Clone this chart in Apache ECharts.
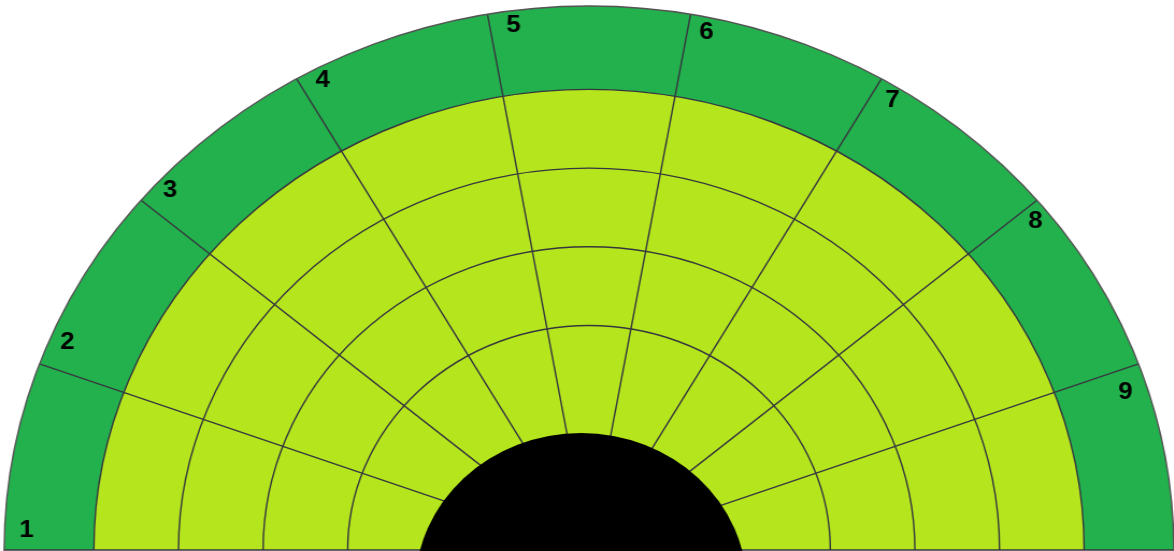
<!DOCTYPE html>
<html>
<head>
<meta charset="utf-8">
<script src="https://cdn.jsdelivr.net/npm/echarts@6/dist/echarts.min.js"></script>
<style>
html,body{margin:0;padding:0;background:#fff;overflow:hidden}
#chart{width:1092px;height:551px;transform:scaleX(1.075);transform-origin:0 0}
</style>
</head>
<body>
<div id="chart"></div>
<script>
// ---- data ----
const categories = ['1', '2', '3', '4', '5', '6', '7', '8', '9'];
const fieldValues = [5, 5, 5, 5, 5, 5, 5, 5, 5];                  // light-green rings (ring units)
const bandValues  = [1.06, 1.06, 1.06, 1.06, 1.06, 1.06, 1.06, 1.06, 1.06]; // dark-green outer band
const coreValues  = [1];                                          // black centre disc

// ---- layout / style ----
const CX = 547.9, CY = 550;
const lineColor = '#36363f';
const hidden = 'rgba(0,0,0,0)';

const chart = echarts.init(document.getElementById('chart'), null, { renderer: 'canvas' });

const option = {
  animation: false,
  backgroundColor: '#fff',
  polar: [
    { center: [CX, CY], radius: [67.1, 544] },
    { center: [CX, CY], radius: [0, 544] }
  ],
  angleAxis: [
    {
      polarIndex: 0, type: 'category', data: categories,
      startAngle: 180, endAngle: 0, boundaryGap: true,
      axisLine: { show: true, lineStyle: { color: '#555', width: 1.4 } },
      axisTick: { show: false }, axisLabel: { show: false },
      splitLine: { show: true, lineStyle: { color: lineColor, width: 1.4 } },
      z: 5
    },
    {
      polarIndex: 1, type: 'category', data: categories,
      startAngle: 187.8, endAngle: 7.8, boundaryGap: true,
      axisLine: { show: false }, axisTick: { show: false }, splitLine: { show: false },
      axisLabel: {
        show: true, interval: 0, margin: -27, color: '#000',
        align: 'center', verticalAlign: 'middle',
        fontSize: 24, fontWeight: 'bold', fontFamily: 'Liberation Sans'
      },
      z: 8
    }
  ],
  radiusAxis: [
    {
      polarIndex: 0, type: 'value', min: 0, max: function (v) { return v.max; }, interval: 1,
      axisLine: { show: false }, axisTick: { show: false }, axisLabel: { show: false },
      splitLine: {
        show: true,
        lineStyle: { color: [hidden, hidden, lineColor, lineColor, lineColor, lineColor, hidden, hidden], width: 1.4 }
      },
      z: 5
    },
    { polarIndex: 1, type: 'value', min: 0, max: 1, show: false }
  ],
  series: [
    {
      name: 'field', type: 'bar', coordinateSystem: 'polar', polarIndex: 0, stack: 'rings',
      data: fieldValues, barCategoryGap: '0%', itemStyle: { color: '#B5E61D' }, silent: true
    },
    {
      name: 'band', type: 'bar', coordinateSystem: 'polar', polarIndex: 0, stack: 'rings',
      data: bandValues, barCategoryGap: '0%', itemStyle: { color: '#22B14C' }, silent: true
    },
    {
      name: 'core', type: 'pie', center: [540.5, 587.4], radius: [0, 154.4],
      data: coreValues, itemStyle: { color: '#000' },
      label: { show: false }, labelLine: { show: false }, silent: true, z: 6
    }
  ]
};
chart.setOption(option);
</script>
</body>
</html>
